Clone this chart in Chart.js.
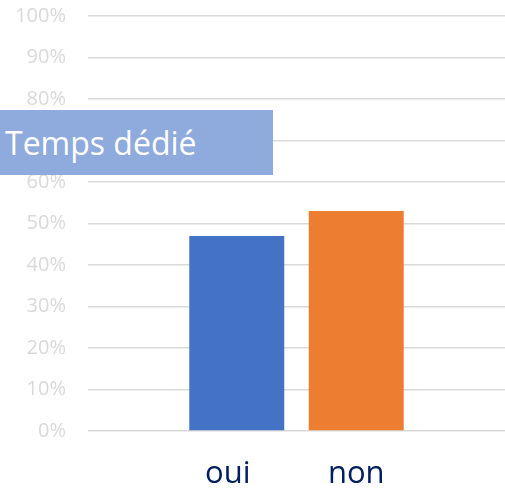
<!DOCTYPE html>
<html>
<head>
<meta charset="utf-8">
<script src="https://cdn.jsdelivr.net/npm/chart.js@4/dist/chart.umd.min.js"></script>
<style>
  html, body { margin: 0; padding: 0; background: #fff; }
  #wrap { position: relative; width: 505px; height: 489px; overflow: hidden; }
  canvas { display: block; margin-top: -18px; }
  #title {
    position: absolute; left: 0; top: 110px; width: 273px; height: 65px;
    background: #8FAADC; color: #fff; font-family: "Open Sans", sans-serif; font-size: 32px;
    line-height: 65px; padding-left: 5px; box-sizing: border-box; white-space: nowrap;
  }
</style>
</head>
<body>
<div id="wrap">
  <canvas id="c" width="505" height="507"></canvas>
  <div id="title">Temps dédié</div>
</div>
<script>
const categories = ['Temps dédié'];
const seriesNames = ['oui', 'non'];
const ouiValues = [0.47];
const nonValues = [0.53];
const yTicks = [0, 0.1, 0.2, 0.3, 0.4, 0.5, 0.6, 0.7, 0.8, 0.9, 1.0];

const labelShift = [-9, 0];
const seriesLabelsPlugin = {
  id: 'seriesLabels',
  afterDraw(chart) {
    const ctx = chart.ctx;
    ctx.save();
    ctx.fillStyle = '#002060';
    ctx.font = '31px "Open Sans", sans-serif';
    ctx.textAlign = 'center';
    ctx.textBaseline = 'alphabetic';
    chart.data.datasets.forEach((ds, i) => {
      const meta = chart.getDatasetMeta(i);
      meta.data.forEach(el => {
        ctx.fillText(ds.label, el.x + labelShift[i], chart.chartArea.bottom + 52);
      });
    });
    ctx.restore();
  }
};

new Chart(document.getElementById('c'), {
  type: 'bar',
  data: {
    labels: categories,
    datasets: [
      { label: seriesNames[0], data: ouiValues, backgroundColor: '#4472C4' },
      { label: seriesNames[1], data: nonValues, backgroundColor: '#ED7D31' }
    ]
  },
  options: {
    responsive: false,
    animation: false,
    devicePixelRatio: 1,
    categoryPercentage: 0.573,
    barPercentage: 0.795,
    layout: { padding: { top: 0, right: 0, bottom: 58, left: 0 } },
    plugins: { legend: { display: false }, tooltip: { enabled: false }, title: { display: false } },
    scales: {
      x: { display: false, grid: { display: false } },
      y: {
        min: 0, max: 1,
        afterBuildTicks(axis) { axis.ticks = yTicks.map(v => ({ value: v })); },
        afterFit(axis) { axis.width = 88; },
        border: { display: false },
        grid: { color: '#d9d9d9', lineWidth: 1.5, drawTicks: false },
        ticks: {
          padding: 22,
          color: '#d9d9d9',
          font: { family: '"Open Sans", sans-serif', size: 20 },
          callback: v => Math.round(v * 100) + '%'
        }
      }
    }
  },
  plugins: [seriesLabelsPlugin]
});
</script>
</body>
</html>
